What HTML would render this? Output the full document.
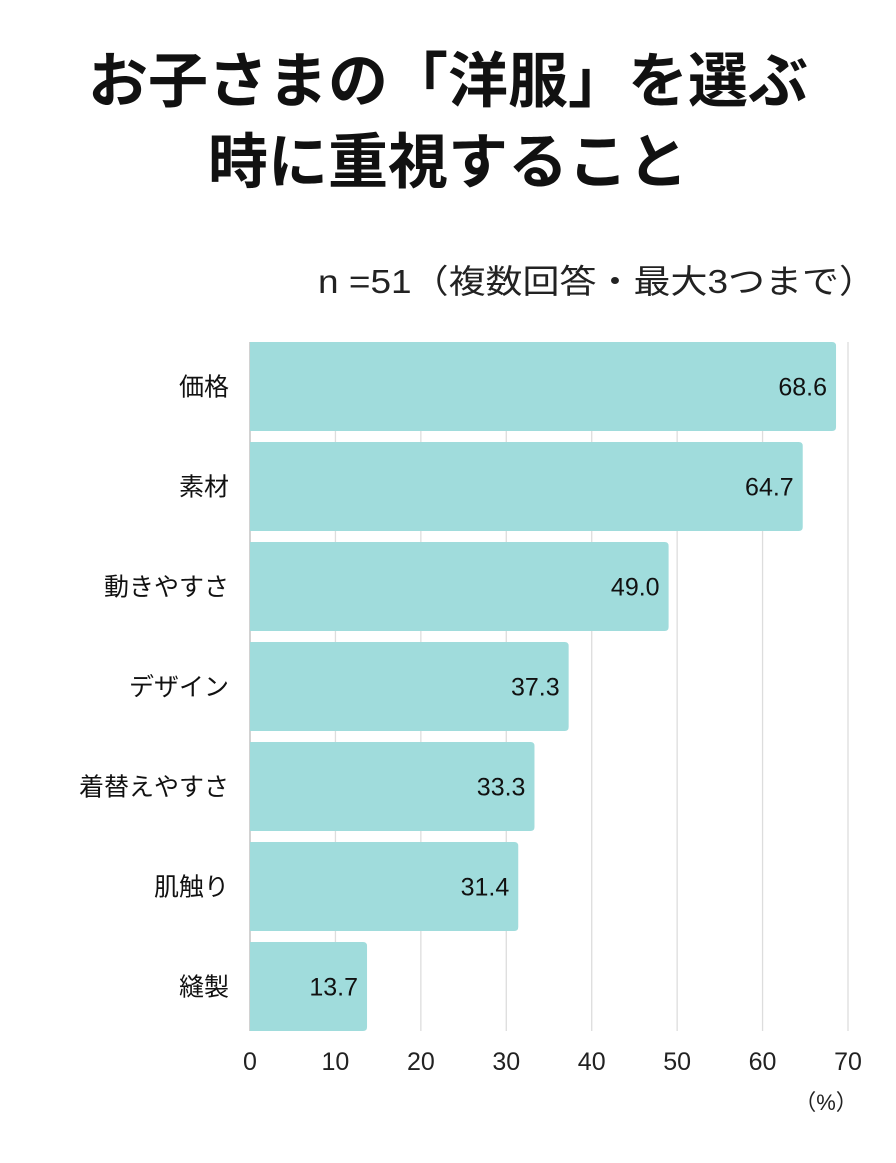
<!DOCTYPE html>
<html><head><meta charset="utf-8"><style>
html,body{margin:0;padding:0;background:#fff;}
body{width:896px;height:1158px;overflow:hidden;font-family:"Liberation Sans","Noto Sans CJK JP",sans-serif;}
</style></head><body>
<svg width="896" height="1158" xmlns="http://www.w3.org/2000/svg" id="chart">
<text x="448" y="102" text-anchor="middle" font-family="Liberation Sans,Noto Sans CJK JP,sans-serif" font-weight="bold" font-size="60" fill="#111">お子さまの「洋服」を選ぶ</text>
<text x="448" y="183" text-anchor="middle" font-family="Liberation Sans,Noto Sans CJK JP,sans-serif" font-weight="bold" font-size="60" fill="#111">時に重視すること</text>
<text x="318" y="293" textLength="558" lengthAdjust="spacingAndGlyphs" font-family="Liberation Sans,Noto Sans CJK JP,sans-serif" font-size="33" fill="#222">n =51（複数回答・最大3つまで）</text>
<g id="grid"></g><g id="bars"></g><g id="labels"></g>
<text x="826" y="1110" text-anchor="middle" font-family="Liberation Sans,Noto Sans CJK JP,sans-serif" font-size="22" fill="#222">（%）</text>
</svg>
<script>
const categories = ["価格","素材","動きやすさ","デザイン","着替えやすさ","肌触り","縫製"];
const values = [68.6,64.7,49.0,37.3,33.3,31.4,13.7];
const ticks = [0,10,20,30,40,50,60,70];
const NS="http://www.w3.org/2000/svg";
const x0=250,x1=848,xmax=70,y0=342,pitch=100,bh=89;
const xs=v=>x0+(x1-x0)*v/xmax;
const ff="Liberation Sans,Noto Sans CJK JP,sans-serif";
function mk(t,a,p){const e=document.createElementNS(NS,t);for(const k in a)e.setAttribute(k,a[k]);p.appendChild(e);return e;}
const grid=document.getElementById('grid'),bars=document.getElementById('bars'),labels=document.getElementById('labels');
const yBottom=y0+pitch*categories.length-11;
ticks.forEach(t=>{
  const l=mk('line',{x1:xs(t),x2:xs(t),y1:y0,y2:yBottom,stroke:t===0?'#bbb':'#ddd','stroke-width':1.3},grid);
  
  
  const tx=mk('text',{x:xs(t),y:1070,'text-anchor':'middle','font-family':ff,'font-size':25,fill:'#222'},labels);
  tx.textContent=t;
  
  
});
categories.forEach((c,i)=>{
  const y=y0+i*pitch;
  const xe=xs(values[i]);
  const r=mk('path',{d:`M${x0},${y}H${xe-4}Q${xe},${y} ${xe},${y+4}V${y+bh-4}Q${xe},${y+bh} ${xe-4},${y+bh}H${x0}Z`,fill:'#a0dcdc'},bars);
  
  
  const v=mk('text',{x:xe-9,y:y+bh/2+9,'text-anchor':'end','font-family':ff,'font-size':25,fill:'#111'},labels);
  v.textContent=values[i].toFixed(1);
  
  
  const cl=mk('text',{x:229,y:y+bh/2+9,'text-anchor':'end','font-family':ff,'font-size':25,fill:'#111'},labels);
  cl.textContent=c;
  
  
});
</script>
</body></html>
